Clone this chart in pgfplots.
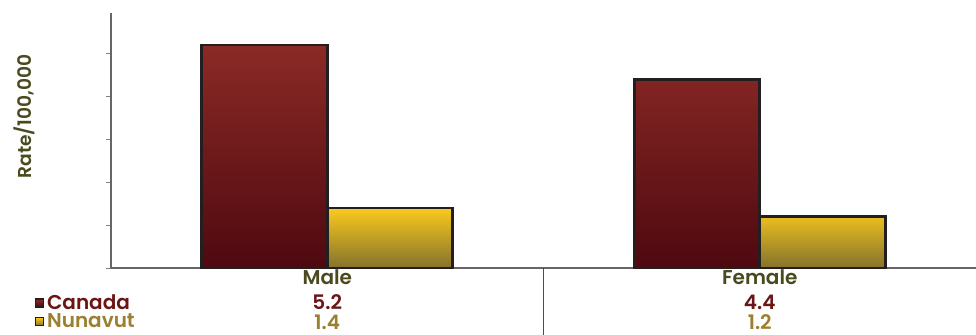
\documentclass[border=0pt]{standalone}
\usepackage{pgfplots}
\pgfplotsset{compat=1.18}
\usepackage{fontspec}
\setmainfont{Poppins}[BoldFont={Poppins SemiBold}]
\definecolor{cantop}{HTML}{8B2A26}
\definecolor{canbot}{HTML}{4E0910}
\definecolor{nuntop}{HTML}{FACA1E}
\definecolor{nunbot}{HTML}{85722C}
\definecolor{cantxt}{HTML}{6B1516}
\definecolor{nuntxt}{HTML}{9A8030}
\definecolor{olivetxt}{HTML}{4A4A1E}
\definecolor{edge}{HTML}{231F20}
\begin{document}
\begin{tikzpicture}
\path[use as bounding box] (0,0) rectangle (732pt,251.25pt);
\begin{axis}[
  at={(83.25pt,50.25pt)}, anchor=south west,
  scale only axis, width=648.75pt, height=191.25pt,
  xmin=-0.5, xmax=1.5, ymin=0, ymax=5.95,
  axis x line=bottom, axis y line=left,
  axis line style={-, draw=black!60, line width=0.8pt},
  xtick=\empty,
  ytick={0,1,2,3,4,5}, yticklabels={},
  tick style={draw=black!50, line width=0.6pt},
  major tick length=4pt, tick align=outside,
  ybar=0pt, bar width=0.29,
  clip=false,
  legend style={at={(-0.093,-0.083)}, anchor=north west, draw=none, fill=none,
    font=\bfseries\fontsize{15}{16}\selectfont, row sep=-2.5pt,
    /tikz/every even column/.append style={column sep=2pt}},
  legend cell align=left,
  legend image code/.code={\draw[line width=1.2pt,draw=edge] (0pt,-3pt) rectangle (6pt,3pt);},
]
\addplot[draw=edge, line width=2pt, top color=cantop, bottom color=canbot] coordinates {(0,5.2) (1,4.4)};
\addplot[draw=edge, line width=2pt, top color=nuntop, bottom color=nunbot] coordinates {(0,1.4) (1,1.2)};
\legend{\textcolor{cantxt}{Canada},\textcolor{nuntxt}{Nunavut}}
\draw[black!70, line width=0.8pt] (axis cs:0.5,0) -- ([yshift=-51pt]axis cs:0.5,0);
\begin{scope}[every node/.style={font=\bfseries\fontsize{15}{16}\selectfont, anchor=center, inner sep=0pt}]
\node[text=olivetxt, yshift=-7pt] at (axis cs:0,0) {Male};
\node[text=olivetxt, yshift=-7pt] at (axis cs:1,0) {Female};
\node[text=cantxt, yshift=-25.5pt] at (axis cs:0,0) {5.2};
\node[text=cantxt, yshift=-25.5pt] at (axis cs:1,0) {4.4};
\node[text=nuntxt, yshift=-40.5pt] at (axis cs:0,0) {1.4};
\node[text=nuntxt, yshift=-40.5pt] at (axis cs:1,0) {1.2};
\end{scope}
\end{axis}
\node[rotate=90, text=olivetxt, font=\bfseries\fontsize{14}{16}\selectfont] at (18pt,163.9pt) {Rate/100,000};
\end{tikzpicture}
\end{document}
